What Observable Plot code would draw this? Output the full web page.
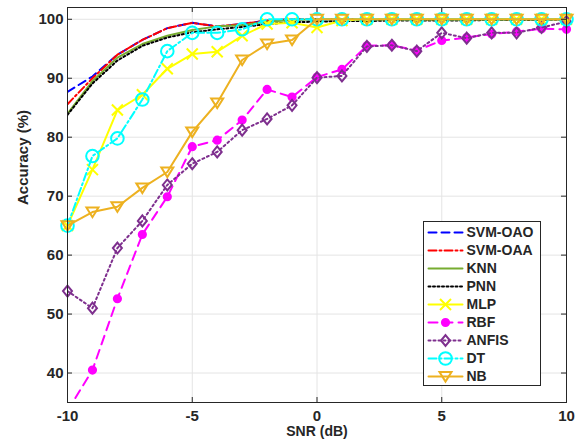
<!DOCTYPE html>
<html><head><meta charset="utf-8">
<script src="https://cdn.jsdelivr.net/npm/d3@7"></script>
<script src="https://cdn.jsdelivr.net/npm/@observablehq/plot@0.6"></script>
<style>
body{margin:0;background:#fff;}
#wrap{position:relative;width:584px;height:445px;}
#legend{position:absolute;left:423px;top:221px;width:116px;height:163px;border:1px solid #262626;background:#fff;}
#legend svg{display:block;}
</style></head><body><div id="wrap"><div id="legend"></div></div>
<script>
// ---- data ----
const snr = [-10,-9,-8,-7,-6,-5,-4,-3,-2,-1,0,1,2,3,4,5,6,7,8,9,10];
const svmOAO = [87.7,90.3,94.0,96.5,98.5,99.4,98.8,99.2,99.8,100,100,100,100,100,100,100,100,100,100,100,100];
const svmOAA = [85.6,90.0,94.0,96.5,98.5,99.4,98.8,99.2,99.8,100,100,100,100,100,100,100,100,100,100,100,100];
const knn    = [84.0,89.5,93.5,95.8,97.2,98.2,98.8,99.0,99.6,99.9,100,100,100,100,100,100,100,100,100,100,100];
const pnn    = [83.8,89.1,93.0,95.5,96.9,97.8,98.3,98.7,99.2,99.5,99.6,99.7,99.7,99.8,99.8,99.8,99.8,99.9,99.9,99.9,100];
const mlp    = [65.0,74.5,84.6,87.2,91.6,94.1,94.5,97.2,99.2,99.4,98.6,99.8,100,100,100,100,100,100,100,100,100];
const rbf    = [33.6,40.5,52.6,63.5,69.9,78.4,79.5,82.9,88.1,86.8,90.2,91.5,95.5,95.6,94.7,96.4,96.9,97.5,97.9,98.4,98.3];
const anfis  = [53.9,51.0,61.2,65.8,71.9,75.5,77.5,81.2,83.1,85.4,90.1,90.4,95.4,95.6,94.6,97.7,96.8,97.7,97.7,98.6,99.6];
const dt     = [65.0,76.8,79.8,86.4,94.6,97.7,97.7,98.3,100,100,100,100,100,100,100,100,100,100,100,100,100];
const nb     = [65.0,67.3,68.2,71.4,74.1,80.9,85.8,93.1,95.8,96.5,100,100,100,100,100,100,100,100,100,100,100];

const seriesNames = ["SVM-OAO","SVM-OAA","KNN","PNN","MLP","RBF","ANFIS","DT","NB"];
const seriesValues = [svmOAO, svmOAA, knn, pnn, mlp, rbf, anfis, dt, nb];
const xTicks = [-10,-5,0,5,10];
const yTicks = [40,50,60,70,80,90,100];
const xLabel = "SNR (dB)";
const yLabel = "Accuracy (%)";
const yMin = 35, yMax = 102;

// ---- styles ----
const symX = {draw(c,s){const r=Math.sqrt(s/Math.PI);c.moveTo(-r,-r);c.lineTo(r,r);c.moveTo(-r,r);c.lineTo(r,-r);}};
const symTri = {draw(c,s){const r=Math.sqrt(s/Math.PI);c.moveTo(-r,-0.75*r);c.lineTo(r,-0.75*r);c.lineTo(0,0.85*r);c.closePath();}};
const symDia = {draw(c,s){const r=Math.sqrt(s/Math.PI);c.moveTo(0,-1.22*r);c.lineTo(r,0);c.lineTo(0,1.22*r);c.lineTo(-r,0);c.closePath();}};

const styles = {
  "SVM-OAO":{color:"#0000ff",dash:"8,5"},
  "SVM-OAA":{color:"#ff0000",dash:"8,3,2,3"},
  "KNN":{color:"#77ac30",dash:null},
  "PNN":{color:"#000000",dash:"2,2.5"},
  "MLP":{color:"#ffff00",dash:null,symbol:symX,r:5.5,fill:"none"},
  "RBF":{color:"#ff00ff",dash:"9,6",symbol:"circle",r:3.6,fill:"#ff00ff"},
  "ANFIS":{color:"#7e2f8e",dash:"2,3",symbol:symDia,r:4.5,fill:"none"},
  "DT":{color:"#00ffff",dash:"8,3,2,3",symbol:"circle",r:6.3,fill:"none"},
  "NB":{color:"#edb120",dash:null,symbol:symTri,r:6,fill:"none"}
};

const rows = seriesNames.map((name,i)=>snr.map((x,j)=>({name, snr:x, acc:seriesValues[i][j]})));

const font = {fontFamily:"'Liberation Sans', Arial, Helvetica, sans-serif", fontWeight:"bold"};
const ink = "#262626";

const marks = [
  Plot.gridX(xTicks,{stroke:"#e4e4e4",strokeOpacity:1}),
  Plot.gridY(yTicks,{stroke:"#e4e4e4",strokeOpacity:1})
];
seriesNames.forEach((name,i)=>{
  const st = styles[name];
  marks.push(Plot.line(rows[i],{x:"snr",y:"acc",stroke:st.color,strokeWidth:2,strokeDasharray:st.dash,clip:true}));
  if (st.symbol) marks.push(Plot.dot(rows[i],{x:"snr",y:"acc",filter:d=>d.acc>=yMin,symbol:st.symbol,r:st.r,stroke:st.color,fill:st.fill,strokeWidth:2}));
});
marks.push(
  Plot.frame({stroke:ink,strokeWidth:1}),
  Plot.tickX(xTicks,{x:d=>d,stroke:ink,insetTop:390}),
  Plot.tickX(xTicks,{x:d=>d,stroke:ink,insetBottom:390}),
  Plot.tickY(yTicks,{y:d=>d,stroke:ink,insetRight:494}),
  Plot.tickY(yTicks,{y:d=>d,stroke:ink,insetLeft:494}),
  Plot.axisX(xTicks,{anchor:"bottom",tickSize:0,tickPadding:8,tickFormat:d=>String(d),fontSize:15,fill:ink,label:null,...font}),
  Plot.axisY(yTicks,{anchor:"left",tickSize:0,tickPadding:4,tickFormat:d=>String(d),fontSize:15,fill:ink,label:null,...font}),
  Plot.text([xLabel],{frameAnchor:"bottom",dy:24,lineAnchor:"top",fontSize:14,fill:ink,...font}),
  Plot.text([yLabel],{frameAnchor:"left",dx:-44.5,rotate:-90,fontSize:15,fill:ink,...font})
);

const chart = Plot.plot({
  width:584, height:445,
  marginLeft:67, marginRight:18, marginTop:7, marginBottom:43,
  x:{domain:[-10,10]},
  y:{domain:[yMin,yMax]},
  style:{background:"#fff",...font},
  marks
});
document.getElementById("wrap").prepend(chart);

// ---- legend ----
const lmarks = [];
seriesNames.forEach(name=>{
  const st = styles[name];
  lmarks.push(Plot.line([{n:name,x:0},{n:name,x:1}],{x:"x",y:"n",stroke:st.color,strokeWidth:2,strokeDasharray:st.dash}));
  if (st.symbol) lmarks.push(Plot.dot([{n:name,x:0.5}],{x:"x",y:"n",symbol:st.symbol,r:st.r,stroke:st.color,fill:st.fill,strokeWidth:2}));
});
lmarks.push(Plot.text(seriesNames,{x:()=>1,y:d=>d,dx:4,textAnchor:"start",fontSize:14,fill:ink,...font}));
const legend = Plot.plot({
  width:116, height:163,
  marginLeft:4, marginRight:78, marginTop:10, marginBottom:9,
  x:{domain:[0,1],axis:null},
  y:{type:"point",domain:seriesNames,padding:0,axis:null},
  style:{background:"#fff",...font},
  marks:lmarks
});
document.getElementById("legend").append(legend);
</script></body></html>
